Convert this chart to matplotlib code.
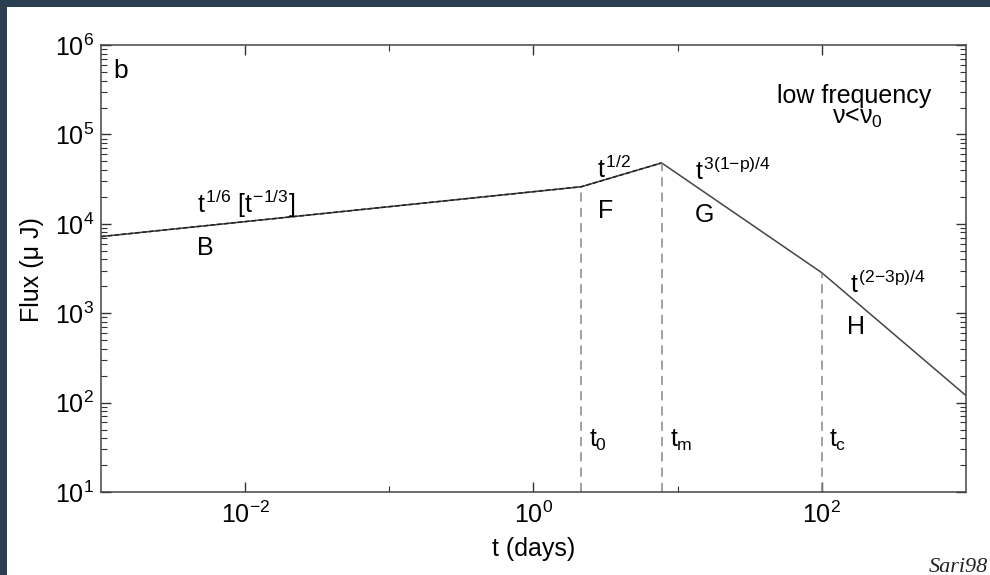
import numpy as np
import matplotlib
matplotlib.use("Agg")
import matplotlib.pyplot as plt
from matplotlib.patches import Rectangle
from matplotlib.ticker import LogLocator, NullFormatter

plt.rcParams['font.family'] = ['Liberation Sans', 'DejaVu Sans']
plt.rcParams['mathtext.fontset'] = 'custom'
plt.rcParams['mathtext.rm'] = 'Liberation Sans'
plt.rcParams['mathtext.it'] = 'Liberation Sans'
plt.rcParams['mathtext.bf'] = 'Liberation Sans:bold'

# light curve break points (days, micro Jansky)
t_days = [1e-3, 2.15, 7.75, 100.0, 1000.0]
flux = [7.2e3, 2.6e4, 4.8e4, 2.84e3, 1.2e2]

# characteristic times marked with dashed lines
break_names = ['$t_0$', '$t_m$', '$t_c$']
break_t = [2.15, 7.75, 100.0]
break_flux = [2.6e4, 4.8e4, 2.84e3]
break_label_t = [2.41, 8.8, 113.0]

# segment annotations: (text, t, flux)
slope_labels = [
    (r'$t^{1/6}\ [t^{{-}1/3}]$', 4.6e-3, 1.32e4),
    ('$t^{1/2}$', 2.78, 3.25e4),
    ('$t^{3(1{-}p)/4}$', 13.1, 3.09e4),
    ('$t^{(2{-}3p)/4}$', 158.0, 1.68e3),
]
region_labels = [('B', 4.6e-3, 4.48e3), ('F', 2.8, 1.16e4),
                 ('G', 13.1, 1.05e4), ('H', 150.0, 585.0)]

fs = 18

fig = plt.figure(figsize=(9.9, 5.75), dpi=100, facecolor='#2b3f52')
fig.patches.append(Rectangle((7 / 990, 0), 1, 1 - 7 / 575, transform=fig.transFigure,
                             facecolor='white', edgecolor='none', zorder=-10))
ax = fig.add_axes([0.102, 0.1443, 0.8737, 0.7774])
ax.set_facecolor('white')

ax.plot(t_days, flux, color='#444444', lw=1.1)
ax.plot(t_days[:3], flux[:3], color='#222222', lw=1.1, linestyle=(0, (3, 1.5)))

ax.vlines(break_t, 10, break_flux, colors='#888888', lw=1.1, linestyles=(0, (6, 4)))

for name, tx in zip(break_names, break_label_t):
    ax.text(tx, 31.8, name, fontsize=fs, ha='left', va='baseline')
for txt, tx, fy in slope_labels:
    ax.text(tx, fy, txt, fontsize=fs, ha='left', va='baseline')
for txt, tx, fy in region_labels:
    ax.text(tx, fy, txt, fontsize=fs, ha='left', va='baseline')

ax.text(0.014, 0.926, 'b', transform=ax.transAxes, fontsize=19, ha='left', va='baseline')
ax.text(0.8705, 0.870, 'low frequency', transform=ax.transAxes, fontsize=fs,
        ha='center', va='baseline')
ax.text(0.874, 0.823, r'$\nu$<$\nu_0$', transform=ax.transAxes, fontsize=fs,
        ha='center', va='baseline')

ax.set_xscale('log')
ax.set_yscale('log')
ax.set_xlim(1e-3, 1e3)
ax.set_ylim(10, 1e6)
ax.set_xticks([1e-2, 1, 1e2])
ax.set_xticks([1e-1, 10], minor=True)
ax.xaxis.set_minor_formatter(NullFormatter())
ax.yaxis.set_major_locator(LogLocator(base=10, numticks=10))
ax.yaxis.set_minor_locator(LogLocator(base=10, subs=np.arange(2, 10), numticks=20))
ax.yaxis.set_minor_formatter(NullFormatter())

ax.tick_params(which='both', direction='in', top=True, right=True, colors='#333333',
               labelcolor='black', labelsize=fs)
ax.tick_params(which='major', length=7, width=1)
ax.tick_params(which='minor', length=4, width=0.8)
ax.tick_params(axis='y', pad=5)
ax.tick_params(axis='x', pad=7)
for sp in ax.spines.values():
    sp.set_color('#444444')
    sp.set_linewidth(1.1)

ax.set_xlabel('t (days)', fontsize=fs)
ax.set_ylabel('Flux (\u03bc J)', fontsize=fs)
ax.xaxis.set_label_coords(0.5, -0.1)
ax.yaxis.set_label_coords(-0.066, 0.497)

fig.text(0.998, 0.006, 'Sari98', fontsize=16, family='Liberation Serif', style='italic',
         color='#222222', ha='right', va='baseline')

fig.savefig('out.png', dpi=100, facecolor=fig.get_facecolor())
